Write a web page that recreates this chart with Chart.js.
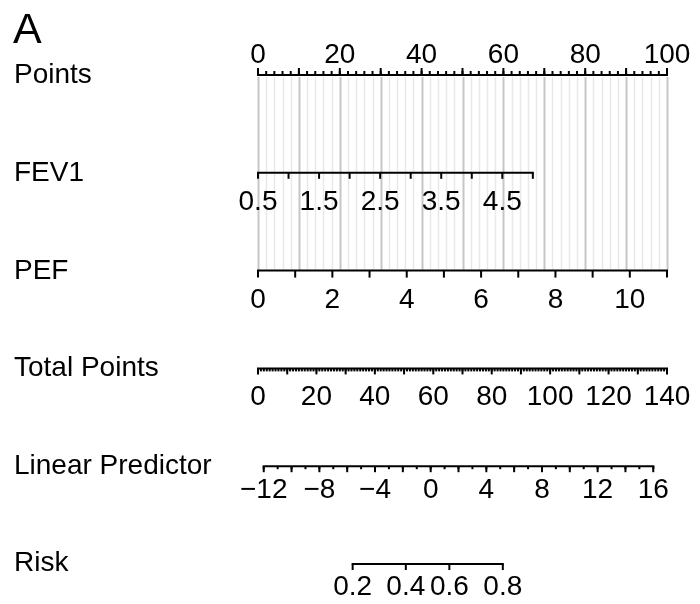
<!DOCTYPE html>
<html><head><meta charset="utf-8">
<script src="https://cdn.jsdelivr.net/npm/chart.js@4.4.1/dist/chart.umd.min.js"></script>
<style>html,body{margin:0;padding:0;background:#fff}canvas{display:block}</style>
</head><body>
<canvas id="c" width="700" height="604"></canvas>
<script>
// ---------- data ----------
const panelLetter = 'A';
const rowNames = ['Points', 'FEV1', 'PEF', 'Total Points', 'Linear Predictor', 'Risk'];

const pointsRange = [0, 100];
const pointsLabels = [0, 20, 40, 60, 80, 100];

const fev1Ticks = [0.5, 1, 1.5, 2, 2.5, 3, 3.5, 4, 4.5, 5];
const fev1Labels = [0.5, 1.5, 2.5, 3.5, 4.5];
const fev1PointsAtEnds = [0, 67.2];        // FEV1 0.5 -> 0 pts, 5.0 -> 67.2 pts

const pefTicks = [0, 1, 2, 3, 4, 5, 6, 7, 8, 9, 10, 11];
const pefLabels = [0, 2, 4, 6, 8, 10];
const pefPointsAtEnds = [0, 100];          // PEF 0 -> 0 pts, 11 -> 100 pts

const totalRange = [0, 140];
const totalLabels = [0, 20, 40, 60, 80, 100, 120, 140];

const lpRange = [-12, 16];
const lpLabels = [-12, -8, -4, 0, 4, 8, 12, 16];
const lpTotalAtEnds = [1.96, 135.3];       // LP -12 / 16 in total points

const riskLabels = [0.2, 0.4, 0.6, 0.8];
const riskTotalPoints = [32.4, 50.6, 65.5, 83.8];

// ---------- helpers ----------
function seq(a, b, step) { const o = []; for (let v = a; v <= b + 1e-9; v += step) o.push(+v.toFixed(4)); return o; }
function lin(v, d0, d1, r0, r1) { return r0 + (v - d0) * (r1 - r0) / (d1 - d0); }
const FONT = '28px "Liberation Sans", Arial, sans-serif';
const fmt = v => (v < 0 ? '\u2212' + Math.abs(v) : String(v));

// Row descriptors (positions/styles only)
const rows = [
  { scale: 'x', map: v => v, ticks: [{ vals: seq(0, 100, 2), len: 4 }, { vals: seq(0, 100, 10), len: 7 }],
    dir: -1, labels: pointsLabels, labelDy: -12, nameDy: 8 },
  { scale: 'x', map: v => lin(v, fev1Ticks[0], fev1Ticks[fev1Ticks.length - 1], fev1PointsAtEnds[0], fev1PointsAtEnds[1]),
    ticks: [{ vals: fev1Ticks, len: 6 }], dir: 1, labels: fev1Labels, labelDy: 37, nameDy: 8 },
  { scale: 'x', map: v => lin(v, pefTicks[0], pefTicks[pefTicks.length - 1], pefPointsAtEnds[0], pefPointsAtEnds[1]),
    ticks: [{ vals: pefTicks, len: 7 }], dir: 1, labels: pefLabels, labelDy: 37, nameDy: 8 },
  { scale: 'xt', map: v => v, ticks: [{ vals: seq(0, 140, 1), len: 3 }, { vals: seq(0, 140, 10), len: 6 }],
    dir: 1, labels: totalLabels, labelDy: 37, nameDy: 8 },
  { scale: 'xt', map: v => lin(v, lpRange[0], lpRange[1], lpTotalAtEnds[0], lpTotalAtEnds[1]),
    ticks: [{ vals: seq(-12, 16, 1), len: 3 }, { vals: seq(-12, 16, 2), len: 6 }], dir: 1, labels: lpLabels, labelDy: 32, nameDy: 8 },
  { scale: 'xt', map: v => riskTotalPoints[riskLabels.indexOf(v)], ticks: [{ vals: riskLabels, len: 6 }],
    dir: 1, labels: riskLabels, labelDy: 31, nameDy: 7 }
];

const nomogramPlugin = {
  id: 'nomogram',
  afterDraw(chart) {
    const ctx = chart.ctx, ys = chart.scales.y, xp = chart.scales.x;
    ctx.save();
    // vertical reference grid (every 2 points, darker every 10)
    const gTop = ys.getPixelForValue(0) + 2, gBot = ys.getPixelForValue(2);
    seq(0, 100, 2).forEach(v => {
      const major = Math.abs(v % 10) < 1e-6;
      const x = Math.round(xp.getPixelForValue(v)) + 0.5;
      ctx.strokeStyle = major ? '#c6c6c6' : '#e8e8e8';
      ctx.lineWidth = major ? 2 : 1.5;
      ctx.beginPath(); ctx.moveTo(x, gTop); ctx.lineTo(x, gBot); ctx.stroke();
    });
    // axes
    ctx.strokeStyle = '#000'; ctx.fillStyle = '#000';
    rows.forEach((r, i) => {
      const sc = chart.scales[r.scale];
      const y = ys.getPixelForValue(i);
      const px = v => sc.getPixelForValue(r.map(v));
      let all = []; r.ticks.forEach(t => all = all.concat(t.vals));
      const x0 = px(Math.min(...all)), x1 = px(Math.max(...all));
      ctx.lineWidth = 2;
      ctx.beginPath(); ctx.moveTo(x0 - 1, y); ctx.lineTo(x1 + 1, y); ctx.stroke();
      r.ticks.forEach(t => {
        t.vals.forEach(v => {
          const x = px(v);
          ctx.beginPath(); ctx.moveTo(x, y); ctx.lineTo(x, y + r.dir * t.len); ctx.stroke();
        });
      });
      ctx.font = FONT; ctx.textAlign = 'center'; ctx.textBaseline = 'alphabetic';
      r.labels.forEach(v => ctx.fillText(fmt(v), px(v), y + r.labelDy));
      ctx.textAlign = 'left';
      ctx.fillText(rowNames[i], 14, y + r.nameDy);
    });
    ctx.font = '43px "Liberation Sans", Arial, sans-serif';
    ctx.textAlign = 'left';
    ctx.fillText(panelLetter, 13, 43);
    ctx.restore();
  }
};

new Chart(document.getElementById('c'), {
  type: 'scatter',
  data: { datasets: [] },
  options: {
    responsive: false, animation: false,
    layout: { padding: { left: 258, right: 33, top: 75, bottom: 40 } },
    plugins: { legend: { display: false }, tooltip: { enabled: false } },
    scales: {
      x: { type: 'linear', min: pointsRange[0], max: pointsRange[1], display: false },
      xt: { type: 'linear', axis: 'x', min: totalRange[0], max: totalRange[1], display: false },
      y: { type: 'linear', min: 0, max: rowNames.length - 1, reverse: true, display: false }
    }
  },
  plugins: [nomogramPlugin]
});
</script>
</body></html>
